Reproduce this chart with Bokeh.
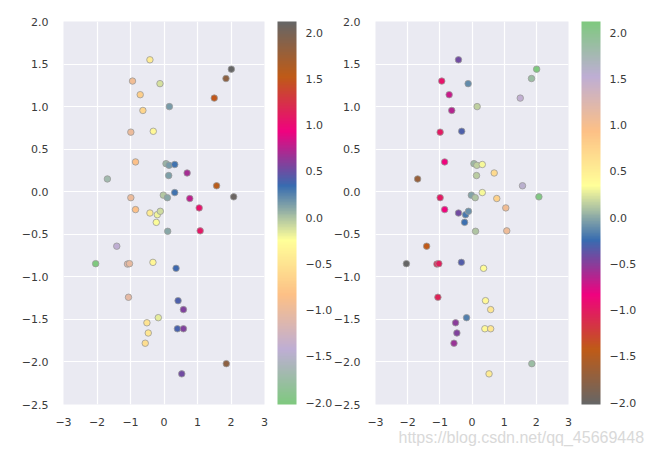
import numpy as np
from bokeh.plotting import figure
from bokeh.models import (ColumnDataSource, LinearColorMapper, ColorBar,
                          FixedTicker, Title)
from bokeh.layouts import row
from bokeh.embed import file_html
from bokeh.resources import INLINE

# ---- data ----
x_vals = [-0.42, 2.01, 1.85, -0.94, -0.12, 1.50, -0.71, -0.63, 0.16, -0.99,
          -0.32, -0.85, 0.06, 0.15, 0.32, -1.69, 0.14, 0.69, 1.57, 2.08,
          0.32, -0.99, -0.02, 0.10, 0.77, 1.05, -0.85, -0.42, -0.20, -0.11,
          -0.23, 0.11, 1.08, -1.41, -2.04, -1.09, -1.03, -0.33, 0.36, -1.06,
          0.42, 0.58, -0.17, -0.51, 0.40, 0.58, -0.47, -0.56, 1.86, 0.53]
y_vals = [1.55, 1.44, 1.33, 1.30, 1.27, 1.10, 1.14, 0.955, 1.00, 0.70,
          0.71, 0.35, 0.33, 0.31, 0.32, 0.15, 0.19, 0.22, 0.07, -0.06,
          -0.01, -0.07, -0.04, -0.07, -0.08, -0.19, -0.21, -0.25, -0.27, -0.23,
          -0.36, -0.465, -0.46, -0.64, -0.845, -0.85, -0.845, -0.83, -0.90, -1.24,
          -1.28, -1.385, -1.48, -1.54, -1.61, -1.61, -1.66, -1.78, -2.02, -2.14]
c_vals = [-0.42, 2.12, 1.85, -0.94, -0.12, 1.50, -0.71, -0.63, 0.16, -0.99,
          -0.32, -0.85, 0.06, 0.15, 0.32, -1.69, 0.14, 0.69, 1.57, 2.08,
          0.32, -0.99, -0.02, 0.10, 0.77, 1.05, -0.85, -0.42, -0.20, -0.11,
          -0.23, 0.11, 1.08, -1.41, -2.02, -1.09, -1.03, -0.33, 0.36, -1.06,
          0.42, 0.58, -0.17, -0.51, 0.40, 0.58, -0.47, -0.56, 1.86, 0.53]

x_ticks = [-3, -2, -1, 0, 1, 2, 3]
x_tick_labels = ["\u22123", "\u22122", "\u22121", "0", "1", "2", "3"]
y_ticks = [-2.5, -2.0, -1.5, -1.0, -0.5, 0.0, 0.5, 1.0, 1.5, 2.0]
y_tick_labels = ["\u22122.5", "\u22122.0", "\u22121.5", "\u22121.0", "\u22120.5",
                 "0.0", "0.5", "1.0", "1.5", "2.0"]
cb_ticks = [-2.0, -1.5, -1.0, -0.5, 0.0, 0.5, 1.0, 1.5, 2.0]
cb_tick_labels = ["\u22122.0", "\u22121.5", "\u22121.0", "\u22120.5", "0.0",
                  "0.5", "1.0", "1.5", "2.0"]

accent = ["#7fc97f", "#beaed4", "#fdc086", "#ffff99",
          "#386cb0", "#f0027f", "#bf5b17", "#666666"]

watermark = "https://blog.csdn.net/qq_45669448"

# ---- styling helpers ----
def hex2rgb(h):
    h = h.lstrip("#")
    return [int(h[i:i + 2], 16) for i in (0, 2, 4)]

def gradient(colors, n=256):
    rgb = np.array([hex2rgb(c) for c in colors], dtype=float)
    pos = np.linspace(0, 1, len(colors))
    t = np.linspace(0, 1, n)
    out = []
    for v in t:
        r = np.interp(v, pos, rgb[:, 0])
        g = np.interp(v, pos, rgb[:, 1])
        b = np.interp(v, pos, rgb[:, 2])
        out.append("#%02x%02x%02x" % (int(round(r)), int(round(g)), int(round(b))))
    return out

def overrides(ticks, labels):
    d = {}
    for t, l in zip(ticks, labels):
        d[float(t)] = l
        d["%g" % t] = l
    return d

FONT = "DejaVu Sans"
TXT = "#3a3a3a"
pal = gradient(accent)

source = ColumnDataSource(dict(x=x_vals, y=y_vals, c=c_vals))


def make_panel(width, left_border, right_border, palette, with_wm=False):
    p = figure(width=width, height=451, x_range=(-3, 3), y_range=(-2.5, 2.0),
               output_backend="svg", toolbar_location=None,
               min_border_left=left_border, min_border_right=right_border,
               min_border_top=21, min_border_bottom=47)
    p.background_fill_color = "#eaeaf2"
    p.border_fill_alpha = 0
    p.outline_line_color = None
    p.xgrid.grid_line_color = "white"
    p.ygrid.grid_line_color = "white"
    p.xgrid.grid_line_width = 1.2
    p.ygrid.grid_line_width = 1.2
    p.xaxis.ticker = FixedTicker(ticks=x_ticks)
    p.yaxis.ticker = FixedTicker(ticks=y_ticks)
    p.xaxis.major_label_overrides = overrides(x_ticks, x_tick_labels)
    p.yaxis.major_label_overrides = overrides(y_ticks, y_tick_labels)
    for ax in (p.xaxis, p.yaxis):
        ax.axis_line_color = None
        ax.major_tick_line_color = None
        ax.minor_tick_line_color = None
        ax.major_label_text_font = FONT
        ax.major_label_text_font_size = "11px"
        ax.major_label_text_color = TXT
    p.xaxis.major_label_standoff = 7
    p.yaxis.major_label_standoff = 9

    mapper = LinearColorMapper(palette=palette, low=min(c_vals), high=max(c_vals))
    p.scatter("x", "y", source=source, size=6.5,
              fill_color={"field": "c", "transform": mapper},
              line_color="#9a9a9a", line_width=0.8)

    cb = ColorBar(color_mapper=mapper, ticker=FixedTicker(ticks=cb_ticks),
                  major_label_overrides=overrides(cb_ticks, cb_tick_labels),
                  location=(13, 0),
                  width=19, height=383, padding=0, margin=0,
                  label_standoff=9, major_tick_line_color=None,
                  minor_tick_line_color=None,
                  bar_line_color=None, border_line_color=None,
                  background_fill_alpha=0,
                  major_label_text_font=FONT,
                  major_label_text_font_size="11px",
                  major_label_text_color=TXT)
    p.add_layout(cb, "right")

    if with_wm:
        wm = Title(text=watermark, align="left", offset=23,
                   vertical_align="top",
                   text_font="Liberation Sans", text_font_size="16px",
                   text_font_style="normal", text_color="#d9d9d9",
                   standoff=0)
        p.add_layout(wm, "below")
    return p


p1 = make_panel(335, 63, 71, pal)
p2 = make_panel(323, 37, 85, pal[::-1], with_wm=True)
p2.margin = (0, 0, 0, -5)

layout = row(p1, p2)
layout.background = "white"
open("out.html", "w").write(file_html(layout, INLINE))
